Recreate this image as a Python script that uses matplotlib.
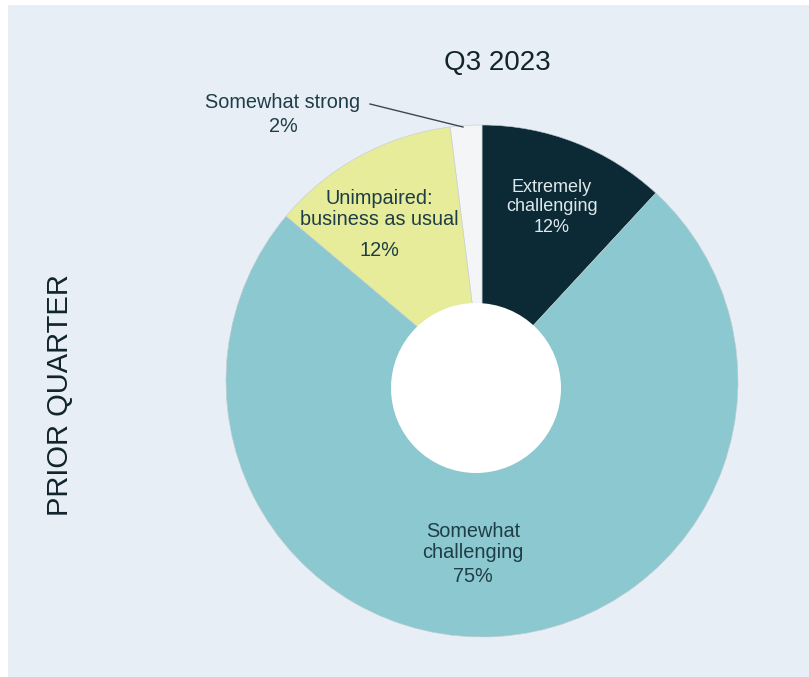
import matplotlib
matplotlib.use("Agg")
import matplotlib.pyplot as plt
from matplotlib.patches import Circle, Rectangle

labels = ["Extremely\nchallenging", "Somewhat\nchallenging", "Unimpaired:\nbusiness as usual", "Somewhat strong"]
shares = [12, 75, 12, 2]
colors = ["#0b2a35", "#8cc8cf", "#e6ec9a", "#f4f5f6"]
title = "Q3 2023"
side_label = "PRIOR QUARTER"

W, H = 809, 677
bg = "#e7eef6"
ink = "#1f3d47"

fig = plt.figure(figsize=(W / 100, H / 100), dpi=100, facecolor="white")
fig.patches.append(Rectangle((8 / W, 0), 1, 1 - 5 / H, transform=fig.transFigure,
                             facecolor=bg, edgecolor="none", zorder=-1))
ax = fig.add_axes([0, 0, 1, 1])
ax.patch.set_alpha(0)

cx, cy, r = 482, H - 381, 256
wedges, _ = ax.pie(shares, colors=colors, startangle=90, counterclock=False,
                   center=(cx, cy), radius=r, frame=True,
                   wedgeprops=dict(linewidth=0.4, edgecolor="#c3ccd0"))
ax.set_xlim(0, W)
ax.set_ylim(0, H)
ax.set_aspect("equal")
ax.axis("off")

# hole sits a little off-centre
ax.add_patch(Circle((476, H - 388), 85, facecolor="white", edgecolor="none", zorder=5))

font = "Liberation Sans"
fig.text(497 / W, 1 - 63 / H, title, ha="center", va="center", fontsize=20, color="#11232b", family=font)
fig.text(60 / W, 1 - 395 / H, side_label, ha="center", va="center", rotation=90,
         fontsize=21, color="#11232b", family=font)

lab = dict(ha="center", va="center", family=font, zorder=6)
ax.text(552, H - 197, labels[0], color="#dfe9ec", linespacing=1.2, fontsize=13, **lab)
ax.text(552, H - 228, f"{shares[0]}%", color="#dfe9ec", fontsize=13, **lab)
ax.text(473, H - 542, labels[1], color=ink, linespacing=1.15, fontsize=14.3, **lab)
ax.text(473, H - 577, f"{shares[1]}%", color=ink, fontsize=14.3, **lab)
ax.text(379, H - 209, labels[2], color=ink, linespacing=1.15, fontsize=14.3, **lab)
ax.text(379, H - 250, f"{shares[2]}%", color=ink, fontsize=14.3, **lab)
ax.text(283, H - 102, labels[3], color=ink, fontsize=14.3, **lab)
ax.text(283, H - 127, f"{shares[3]}%", color=ink, fontsize=14.3, **lab)
ax.plot([370, 463], [H - 104, H - 127], color="#3a4a50", linewidth=1, zorder=6)

fig.savefig("out.png", dpi=100, facecolor="white")
